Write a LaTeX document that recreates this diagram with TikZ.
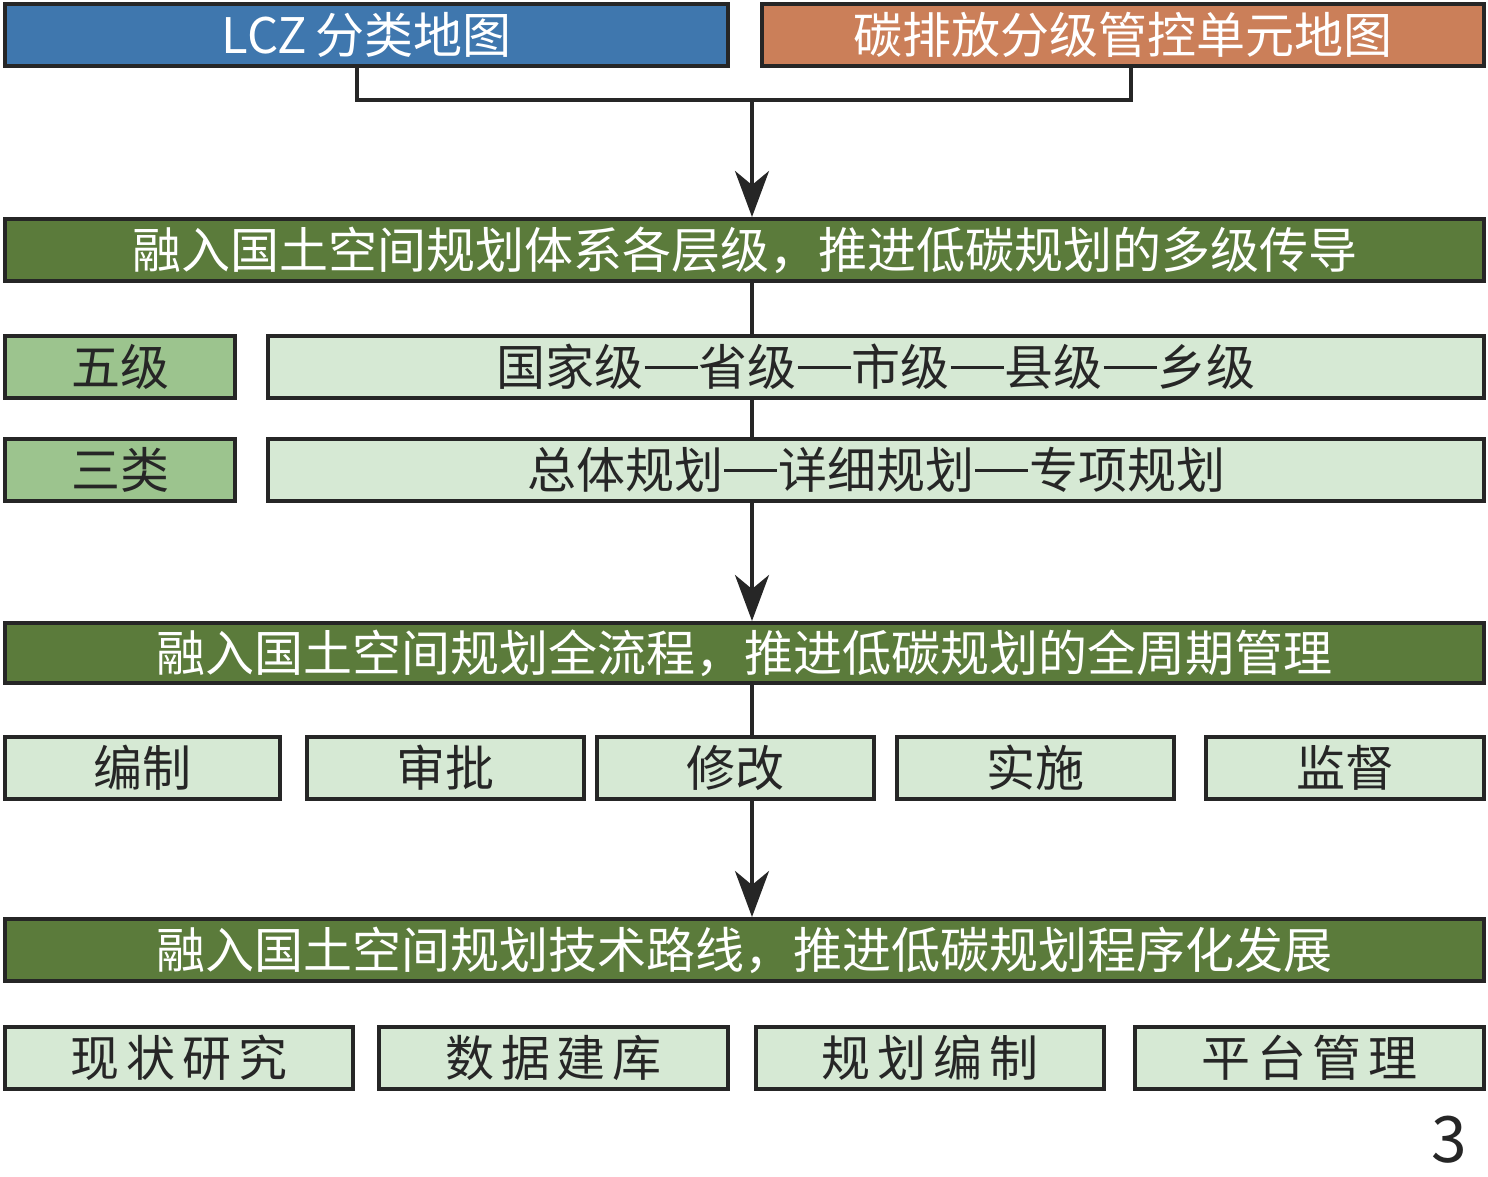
\documentclass[tikz,border=0pt]{standalone}
\usepackage{fontspec}
\setmainfont{Noto Sans CJK SC}
\newfontfamily\cjkwide[LetterSpace=14]{Noto Sans CJK SC}
\usetikzlibrary{arrows.meta}
\definecolor{bdr}{HTML}{262626}
\definecolor{cblue}{HTML}{3F77AE}
\definecolor{corange}{HTML}{CB7F59}
\definecolor{cdark}{HTML}{5B7B3B}
\definecolor{cmid}{HTML}{9CC48E}
\definecolor{clight}{HTML}{D6E9D4}
\newcommand\cdash{\kern1pt\rule[17.2pt]{53pt}{2.8pt}\kern1pt}
\tikzset{
  box/.style={draw=bdr, line width=4pt, inner sep=0pt, font=\fontsize{49}{55}\selectfont, text=bdr, minimum height=62pt},
  bluebox/.style={box, fill=cblue, text=white},
  orangebox/.style={box, fill=corange, text=white},
  barbox/.style={box, fill=cdark, text=white, minimum width=1479pt},
  midbox/.style={box, fill=cmid, minimum width=230pt},
  lightbox/.style={box, fill=clight},
  conn/.style={draw=bdr, line width=4pt},
  arr/.style={conn, -{Stealth[length=46pt, width=34pt, inset=14pt]}},
}
\begin{document}
\begin{tikzpicture}[x=1pt, y=-1pt]
\useasboundingbox (0,0) rectangle (1488,1176);
% top
\node[bluebox, minimum width=723pt] (lcz) at (366.5,35) {LCZ\hspace{8pt}分类地图};
\node[orangebox, minimum width=722pt] (carbon) at (1123,35) {碳排放分级管控单元地图};
% bar 1
\node[barbox] (bar1) at (744.5,250) {融入国土空间规划体系各层级，推进低碳规划的多级传导};
\node[midbox] (wuji) at (120,367) {五级};
\node[lightbox, minimum width=1216pt] (levels) at (876,367) {国家级\cdash 省级\cdash 市级\cdash 县级\cdash 乡级};
\node[midbox] (sanlei) at (120,470) {三类};
\node[lightbox, minimum width=1216pt] (types) at (876,470) {总体规划\cdash 详细规划\cdash 专项规划};
% bar 2
\node[barbox, minimum height=60pt] (bar2) at (744.5,653) {融入国土空间规划全流程，推进低碳规划的全周期管理};
\node[lightbox, minimum width=275pt] (bianzhi) at (142.5,768) {编制};
\node[lightbox, minimum width=277pt] (shenpi) at (445.5,768) {审批};
\node[lightbox, minimum width=277pt] (xiugai) at (735.5,768) {修改};
\node[lightbox, minimum width=277pt] (shishi) at (1035.5,768) {实施};
\node[lightbox, minimum width=278pt] (jiandu) at (1345,768) {监督};
% bar 3
\node[barbox] (bar3) at (744.5,950) {融入国土空间规划技术路线，推进低碳规划程序化发展};
\node[lightbox, minimum width=348pt] (xianzhuang) at (179,1058) {\cjkwide 现状研究};
\node[lightbox, minimum width=349pt] (shuju) at (553.5,1058) {\cjkwide 数据建库};
\node[lightbox, minimum width=348pt] (guihua) at (930,1058) {\cjkwide 规划编制};
\node[lightbox, minimum width=349pt] (pingtai) at (1309.5,1058) {\cjkwide 平台管理};
\node[font=\fontsize{64}{70}\selectfont, text=bdr, inner sep=0pt] (num) at (1449,1140) {3};
% connectors
\coordinate (jl) at (357,100);
\coordinate (jr) at (1131,100);
\coordinate (j) at (752,100);
\draw[conn] (jl |- lcz.south) -- (jl) -- (jr) -- (jr |- carbon.south);
\draw[arr] (j) -- (j |- bar1.north);
\draw[conn] (j |- bar1.south) -- (j |- levels.north);
\draw[conn] (j |- levels.south) -- (j |- types.north);
\draw[arr] (j |- types.south) -- (j |- bar2.north);
\draw[conn] (j |- bar2.south) -- (j |- xiugai.north);
\draw[arr] (j |- xiugai.south) -- (j |- bar3.north);
\end{tikzpicture}
\end{document}
